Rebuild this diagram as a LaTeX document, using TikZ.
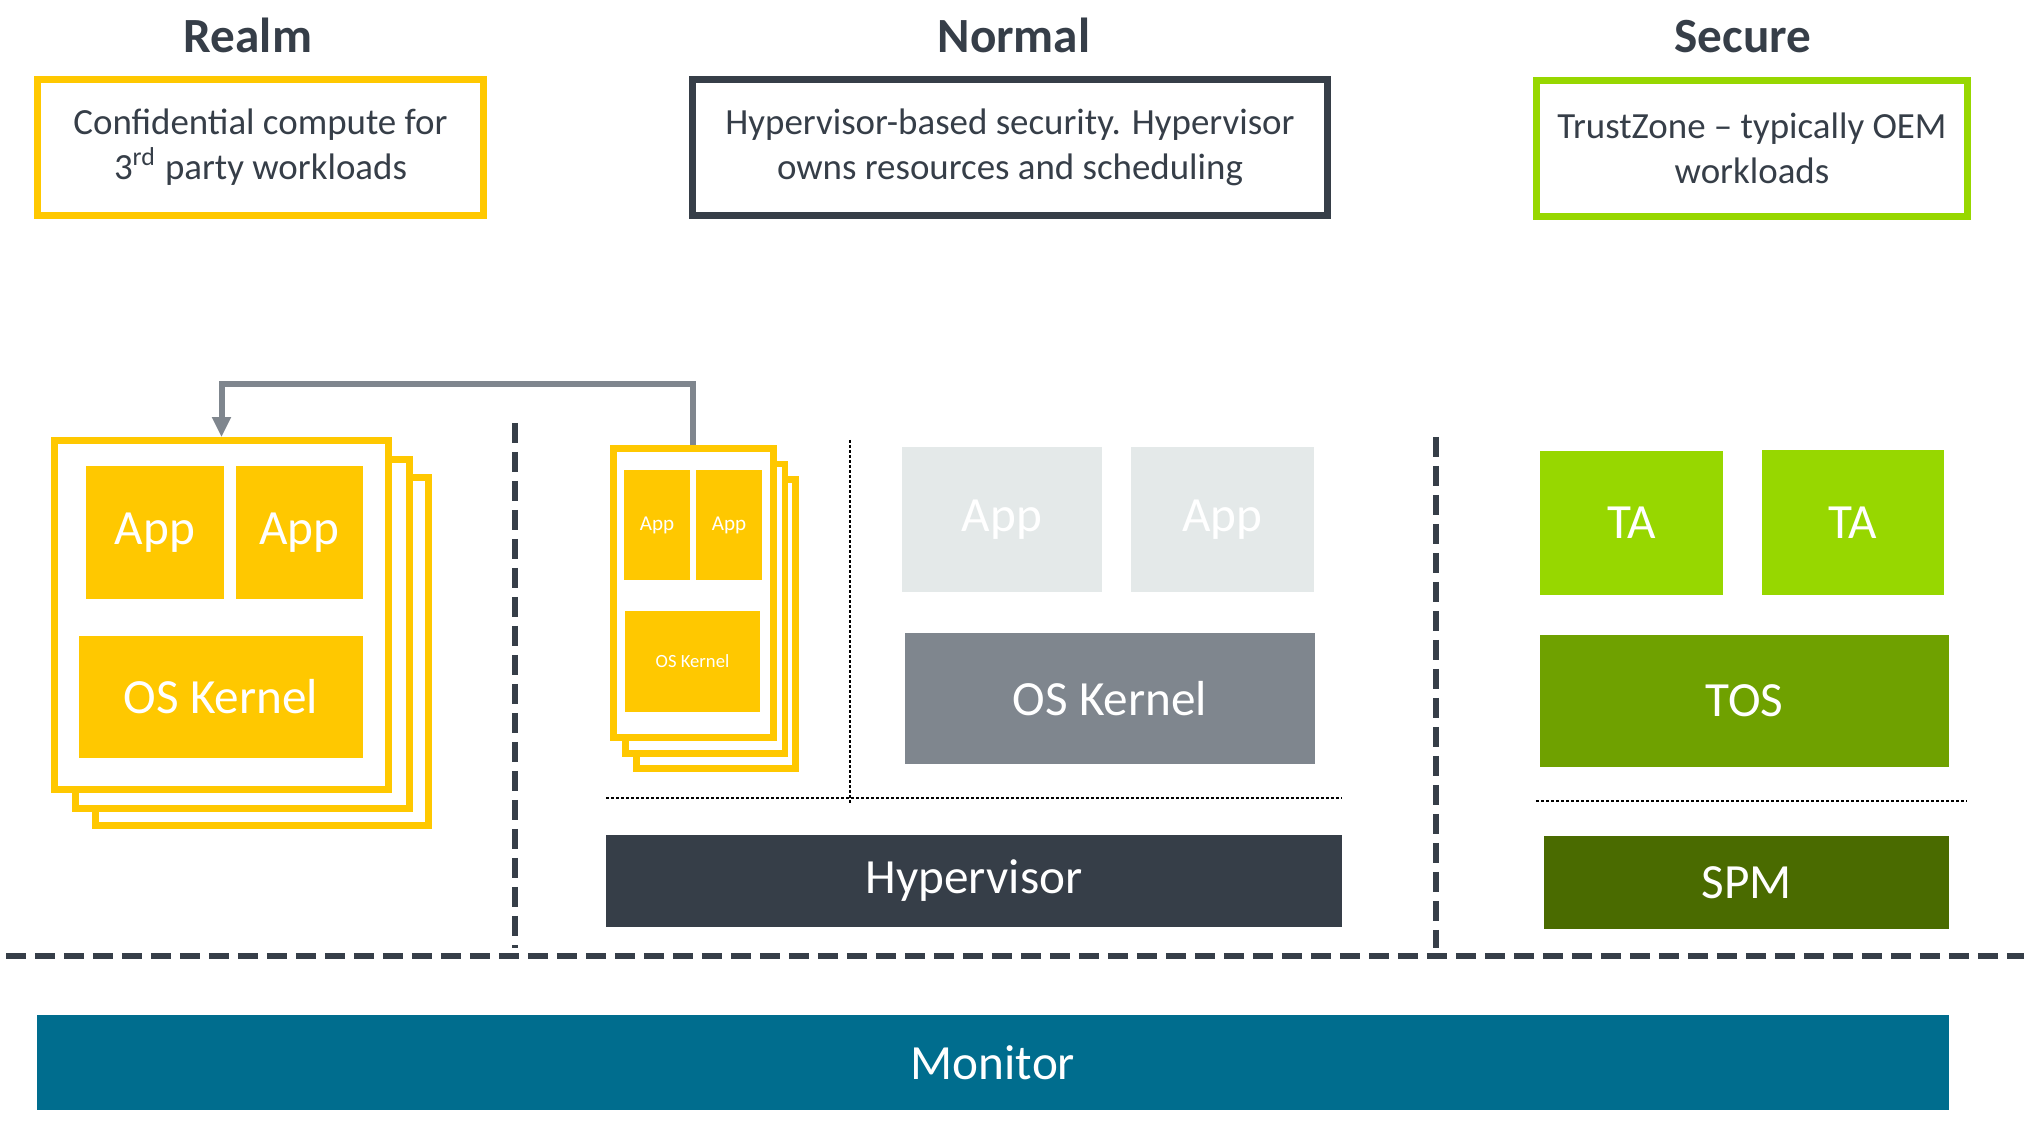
\documentclass[tikz,border=0pt]{standalone}
\usepackage{fontspec}
\setmainfont{Carlito}
\usepackage{tikz}
\usetikzlibrary{positioning, arrows.meta, fit}
\definecolor{realmyellow}{HTML}{FFC800}
\definecolor{slatedark}{HTML}{363E48}
\definecolor{slategrey}{HTML}{7F868E}
\definecolor{appgrey}{HTML}{E4E9E9}
\definecolor{talime}{HTML}{97D700}
\definecolor{tosgreen}{HTML}{6FA100}
\definecolor{spmgreen}{HTML}{4A6B00}
\definecolor{monblue}{HTML}{006D8E}
\tikzstyle{title}=[%
      anchor=base, text=slatedark, font=\bfseries\fontsize{14}{16}\selectfont
]
\tikzstyle{desc}=[%
      rectangle, line width=0.7mm, fill=white, inner sep=0pt
]
\tikzstyle{desctext}=[%
      align=center, text=slatedark, font=\fontsize{10.5}{12.8}\selectfont
]
\tikzstyle{frame}=[%
      rectangle, draw=realmyellow, line width=0.67mm, fill=white, inner sep=0pt
]
\tikzstyle{blk}=[%
      rectangle, draw=none, inner sep=0pt
]
\tikzstyle{blktext}=[%
      text=white, font=\fontsize{14}{16}\selectfont
]
\tikzstyle{tinytext}=[%
      text=white, font=\fontsize{6}{7}\selectfont
]
\tikzstyle{wall}=[%
      draw=slatedark, line width=0.65mm, dash pattern=on 2mm off 0.9mm
]
\tikzstyle{split}=[%
      draw=black, line width=0.2mm, dash pattern=on 0.3mm off 0.2mm
]

\begin{document}
\begin{tikzpicture}[x=0.1mm, y=-0.1mm,
    arr/.style={draw=slategrey, line width=0.6mm, -{Triangle[length=2mm,width=1.8mm]}}
  ]
    \useasboundingbox (0,0) rectangle (2024,1123);

    % worlds
    \node[title] (trealm)  at (248,53)  {Realm};
    \node[title] (tnormal) at (1014,53) {Normal};
    \node[title] (tsecure) at (1743,53) {Secure};

    \node[desc, draw=realmyellow, fit={(37.5,79.5) (483.5,215.5)},
          label={[desctext]center:{Confidential compute for\\3\textsuperscript{rd} party workloads}}] (drealm) {};
    \node[desc, draw=slatedark, fit={(692.5,79.5) (1327.5,215.5)},
          label={[desctext]center:{Hypervisor-based security. Hypervisor\\owns resources and scheduling}}] (dnormal) {};
    \node[desc, draw=talime, fit={(1536.5,80.5) (1967.5,216.5)},
          label={[desctext]center:{TrustZone -- typically OEM\\workloads}}] (dsecure) {};

    % realm VM stack
    \node[frame, fit={(95.4,477.4) (428.6,825.6)}] (bback) {};
    \node[frame, fit={(75.4,459.4) (409.6,808.6)}] (bmid) {};
    \node[frame, fit={(54.4,440.4) (388.6,789.6)}] (bfront) {};
    \node[blk, fill=realmyellow, fit={(86,466) (224,599)}, label={[blktext]center:App}] (bapp1) {};
    \node[blk, fill=realmyellow, fit={(236,466) (363,599)}, label={[blktext]center:App}] (bapp2) {};
    \node[blk, fill=realmyellow, fit={(79,636) (363,758)}, label={[blktext]center:OS Kernel}] (bkern) {};

    % small stack in normal world
    \node[frame, fit={(636.6,479.3) (795.6,768.4)}] (sback) {};
    \node[frame, fit={(625.6,464) (785,753.4)}] (smid) {};
    \node[frame, fit={(613.3,448.6) (773.4,737.4)}] (sfront) {};
    \node[blk, fill=realmyellow, fit={(624,470) (690,580)}, label={[tinytext]center:App}] (sapp1) {};
    \node[blk, fill=realmyellow, fit={(696,470) (762,580)}, label={[tinytext]center:App}] (sapp2) {};
    \node[blk, fill=realmyellow, fit={(625,611) (760,712)},
          label={[tinytext, font=\fontsize{5.3}{6}\selectfont]center:OS Kernel}] (skern) {};

    \draw[arr] (sfront.north) -- ++(0,-61) -| (bfront.north);

    % normal world
    \node[blk, fill=appgrey, fit={(902,447) (1102,592)}, label={[blktext]center:App}] (napp1) {};
    \node[blk, fill=appgrey, fit={(1131,447) (1314,592)}, label={[blktext]center:App}] (napp2) {};
    \node[blk, fill=slategrey, fit={(905,633) (1315,764)}, label={[blktext]center:OS Kernel}] (nkern) {};
    \node[blk, fill=slatedark, fit={(606,835) (1342,927)}, label={[blktext]center:Hypervisor}] (hyp) {};

    % secure world
    \node[blk, fill=talime, fit={(1540,451) (1723,595)}, label={[blktext]center:TA}] (ta1) {};
    \node[blk, fill=talime, fit={(1762,450) (1944,595)}, label={[blktext]center:TA}] (ta2) {};
    \node[blk, fill=tosgreen, fit={(1540,635) (1949,767)}, label={[blktext]center:TOS}] (tos) {};
    \node[blk, fill=spmgreen, fit={(1544,836) (1949,929)}, label={[blktext]center:SPM}] (spm) {};

    \node[blk, fill=monblue, fit={(37,1015) (1949,1110)}, label={[blktext]center:Monitor}] (mon) {};

    % dividers
    \draw[split] (850,440) -- (850,804);
    \draw[split] (606,798) -- (1342,798);
    \draw[split] (1536,801) -- (1967,801);
    \draw[wall] (515,423) -- (515,948);
    \draw[wall] (1436,437) -- (1436,948);
    \draw[wall] (6,956) -- (2024,956);
\end{tikzpicture}
\end{document}
